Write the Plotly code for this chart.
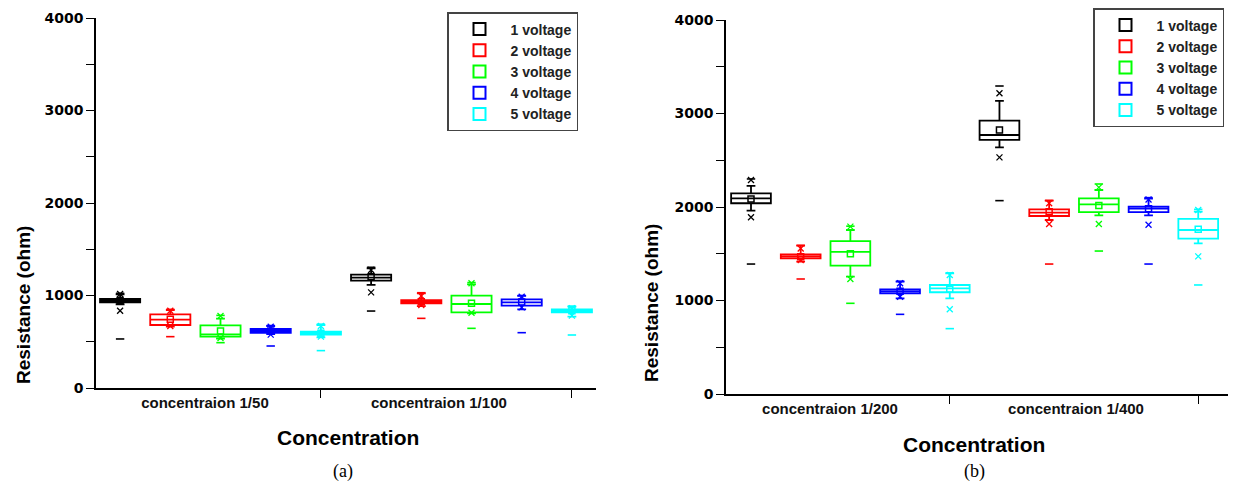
import plotly.graph_objects as go

# page is drawn with an 8 px body margin, so the figure covers screen pixels 8..1236 / 8..490
OFF = 8
W, H = 1236 - OFF, 490 - OFF

voltages = ["1 voltage", "2 voltage", "3 voltage", "4 voltage", "5 voltage"]
colors = ["#000000", "#ff0000", "#00ff00", "#0000ff", "#00ffff"]

# ---- panel (a): concentraion 1/50, 1/100 ----
a_groups = ["concentraion 1/50", "concentraion 1/100"]
a_q1 = [[926, 1160], [681, 916], [555, 818], [595, 890], [577, 818]]
a_med = [[945, 1193], [739, 933], [580, 908], [616, 926], [591, 836]]
a_q3 = [[962, 1225], [797, 951], [678, 998], [638, 959], [609, 851]]
a_lo = [[905, 1114], [663, 886], [533, 807], [584, 851], [548, 771]]
a_hi = [[1013, 1294], [843, 1024], [750, 1121], [670, 995], [681, 880]]
a_mean = [[945, 1204], [742, 933], [616, 916], [616, 930], [591, 836]]
a_p1 = [[836, 1034], [670, 897], [540, 814], [577, 872], [555, 782]]
a_p99 = [[1016, 1276], [836, 995], [779, 1132], [663, 987], [670, 862]]
a_min = [[530, 832], [555, 753], [490, 645], [454, 598], [404, 573]]
a_max = [[1024, 1305], [850, 1030], [785, 1140], [675, 1000], [690, 885]]

# ---- panel (b): concentraion 1/200, 1/400 ----
b_groups = ["concentraion 1/200", "concentraion 1/400"]
b_q1 = [[2040, 2717], [1451, 1904], [1372, 1946], [1077, 1946], [1088, 1661]]
b_med = [[2093, 2770], [1472, 1939], [1519, 2028], [1098, 1982], [1130, 1754]]
b_q3 = [[2146, 2923], [1494, 1975], [1636, 2093], [1120, 2003], [1166, 1872]]
b_lo = [[1961, 2638], [1415, 1861], [1255, 1911], [1023, 1911], [1023, 1611]]
b_hi = [[2225, 3134], [1586, 2068], [1754, 2182], [1201, 2089], [1291, 1950]]
b_mean = [[2085, 2824], [1469, 1950], [1501, 2017], [1098, 1982], [1120, 1761]]
b_p1 = [[1890, 2531], [1433, 1818], [1230, 1818], [1041, 1811], [906, 1472]]
b_p99 = [[2289, 3216], [1557, 2040], [1790, 2210], [1185, 2080], [1273, 1968]]
b_min = [[1390, 2068], [1230, 1390], [970, 1529], [852, 1390], [699, 1166]]
b_max = [[2300, 3294], [1590, 2070], [1795, 2246], [1205, 2100], [1295, 1975]]

yticks = [0, 1000, 2000, 3000, 4000]


def px_x(p):
    return (p - OFF) / W


def px_y(p):
    return 1 - (p - OFF) / H


fig = go.Figure()

panels = [
    dict(xa="x", ya="y", leg="legend", q1=a_q1, med=a_med, q3=a_q3, lo=a_lo, hi=a_hi,
         mean=a_mean, p1=a_p1, p99=a_p99, mn=a_min, mx=a_max),
    dict(xa="x2", ya="y2", leg="legend2", q1=b_q1, med=b_med, q3=b_q3, lo=b_lo, hi=b_hi,
         mean=b_mean, p1=b_p1, p99=b_p99, mn=b_min, mx=b_max),
]

for P in panels:
    for k, (name, c) in enumerate(zip(voltages, colors)):
        xs = [k + 1 + 5 * g for g in range(2)]
        fig.add_trace(go.Box(
            x=xs, q1=P["q1"][k], median=P["med"][k], q3=P["q3"][k],
            lowerfence=P["lo"][k], upperfence=P["hi"][k],
            width=0.8, whiskerwidth=0.22, boxpoints=False,
            line=dict(color=c, width=1.8), fillcolor="rgba(255,255,255,0)",
            name=name, legend=P["leg"], xaxis=P["xa"], yaxis=P["ya"],
            hoverinfo="skip",
        ))
        fig.add_trace(go.Scatter(
            x=xs, y=P["mean"][k], mode="markers", showlegend=False,
            marker=dict(symbol="square-open", size=6, color=c, line=dict(width=1.5, color=c)),
            xaxis=P["xa"], yaxis=P["ya"], hoverinfo="skip"))
        fig.add_trace(go.Scatter(
            x=xs + xs, y=P["p1"][k] + P["p99"][k], mode="markers", showlegend=False,
            marker=dict(symbol="x-thin-open", size=6, color=c, line=dict(width=1.3, color=c)),
            xaxis=P["xa"], yaxis=P["ya"], hoverinfo="skip"))
        fig.add_trace(go.Scatter(
            x=xs + xs, y=P["mn"][k] + P["mx"][k], mode="markers", showlegend=False,
            marker=dict(symbol="line-ew-open", size=6, color=c, line=dict(width=1.6, color=c)),
            xaxis=P["xa"], yaxis=P["ya"], hoverinfo="skip"))

bold_num = dict(family="DejaVu Sans", size=14, color="black", weight="bold")
cat_font = dict(family="Liberation Sans, Arial", size=15, color="#111111", weight="bold")


def xaxis_cfg(dom, rng, labelpos, labels, anchor):
    return dict(domain=dom, range=rng, anchor=anchor, automargin=False, showline=True,
                linecolor="black", linewidth=1.5,
                showgrid=False, zeroline=False, tickvals=labelpos, ticktext=labels,
                ticks="", tickfont=cat_font,
                minor=dict(tickvals=[5, 10], ticks="outside", ticklen=8, tickwidth=1.2,
                           tickcolor="black", showgrid=False))


def yaxis_cfg(dom, anchor):
    return dict(domain=dom, range=[0, 4000], anchor=anchor, automargin=False, showline=True,
                linecolor="black",
                linewidth=1.5, showgrid=False, zeroline=False, tickvals=yticks,
                ticks="outside", ticklen=8, tickwidth=1.2, tickcolor="black",
                tickfont=bold_num,
                minor=dict(dtick=500, tick0=0, ticks="outside", ticklen=8, tickwidth=1.2,
                           tickcolor="black", showgrid=False))


leg_font = dict(family="Liberation Sans, Arial", size=14, color="#222222", weight="bold")

fig.update_layout(
    width=W, height=H, margin=dict(l=0, r=0, t=0, b=0, pad=0, autoexpand=False),
    plot_bgcolor="white", paper_bgcolor="white", boxmode="overlay",
    xaxis=xaxis_cfg([px_x(96), px_x(596)], [0.52, 10.48], [2.69, 7.35], a_groups, "y"),
    yaxis=yaxis_cfg([px_y(388), px_y(18)], "x"),
    xaxis2=xaxis_cfg([px_x(726), 1.0], [0.497, 10.76], [2.59, 7.54], b_groups, "y2"),
    yaxis2=yaxis_cfg([px_y(394), px_y(20)], "x2"),
    legend=dict(x=px_x(447), y=px_y(12), xanchor="left", yanchor="top",
                bordercolor="#444444", borderwidth=1.5, bgcolor="white",
                font=leg_font, tracegroupgap=0, itemsizing="constant", itemwidth=52),
    legend2=dict(x=px_x(1093), y=px_y(8), xanchor="left", yanchor="top",
                 bordercolor="#444444", borderwidth=1.5, bgcolor="white",
                 font=leg_font, tracegroupgap=0, itemsizing="constant", itemwidth=52),
    showlegend=True,
)

ann = []
for cx, cy in [(23, 305), (651, 303)]:
    ann.append(dict(x=px_x(cx), y=px_y(cy), xref="paper", yref="paper", text="Resistance (ohm)",
                    textangle=-90, showarrow=False, xanchor="center", yanchor="middle",
                    font=dict(family="Liberation Sans, Arial", size=19, color="black", weight="bold")))
for cx, cy in [(348, 437), (974, 444)]:
    ann.append(dict(x=px_x(cx), y=px_y(cy), xref="paper", yref="paper", text="Concentration",
                    showarrow=False, xanchor="center", yanchor="middle",
                    font=dict(family="Liberation Sans, Arial", size=21, color="black", weight="bold")))
for cx, cy, t in [(343, 471, "(a)"), (974, 471, "(b)")]:
    ann.append(dict(x=px_x(cx), y=px_y(cy), xref="paper", yref="paper", text=t, showarrow=False,
                    xanchor="center", yanchor="middle",
                    font=dict(family="Liberation Serif, Times New Roman", size=18, color="black")))
fig.update_layout(annotations=ann)

fig.write_html("out.html")
